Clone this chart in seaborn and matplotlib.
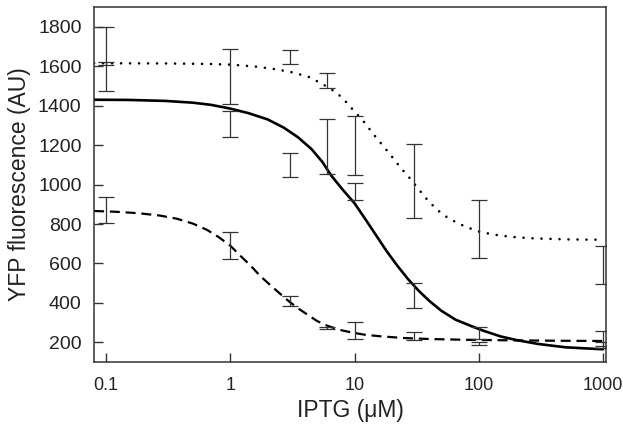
import numpy as np
import pandas as pd
import seaborn as sns
import matplotlib
matplotlib.use("Agg")
import matplotlib.pyplot as plt

# ---- curve points (IPTG in uM, YFP in AU) ----
dot_x = [0.08, 0.3, 0.7, 1, 1.6, 2.3, 3.2, 4.3, 5.5, 7.2, 8.5, 10, 12, 14, 16.5, 19.5, 23, 27.5,
         32, 37, 44, 52, 68, 85, 100, 130, 180, 280, 520, 1000]
dot_y = [1615, 1614, 1611, 1608, 1598, 1585, 1568, 1545, 1510, 1465, 1420, 1370, 1315, 1260, 1205,
         1150, 1092, 1036, 985, 935, 885, 845, 803, 778, 762, 747, 735, 727, 722, 720]

sol_x = [0.08, 0.15, 0.3, 0.5, 0.7, 1, 1.4, 2, 2.7, 3.5, 4.5, 5.5, 6.5, 8, 10, 12.5, 15, 18, 22,
         27, 33, 40, 50, 65, 85, 110, 150, 200, 300, 500, 700, 1000]
sol_y = [1430, 1429, 1424, 1415, 1404, 1385, 1362, 1330, 1288, 1240, 1180, 1115, 1045, 975, 905,
         815, 740, 665, 590, 520, 460, 410, 360, 315, 285, 258, 230, 212, 192, 175, 170, 165]

das_x = [0.08, 0.12, 0.18, 0.27, 0.37, 0.5, 0.65, 0.8, 1, 1.2, 1.45, 1.75, 2.1, 2.5, 3, 3.6, 4.3,
         5, 6, 7.5, 9.5, 12, 16, 25, 40, 80, 200, 500, 1000]
das_y = [866, 862, 855, 843, 827, 802, 770, 735, 690, 640, 590, 535, 490, 448, 405, 368, 335,
         308, 285, 264, 250, 239, 231, 222, 217, 213, 210, 208, 207]

# ---- error bars (low / high) ----
conc = [0.1, 1, 3, 6, 10, 30, 100, 1000]
dot_lo = [1476, 1410, 1613, 1491, 1046, 828, 630, 497]
dot_hi = [1800, 1688, 1684, 1567, 1349, 1208, 924, 691]
sol_lo = [1605, 1243, 1036, 1051, 924, 372, 215, 172]
sol_hi = [1622, 1375, 1162, 1334, 1010, 499, 276, 200]
das_lo = [803, 625, 382, 268, 215, 210, 186, 180]
das_hi = [939, 757, 433, 280, 301, 251, 201, 258]

xticks = [0.1, 1, 10, 100, 1000]
xticklabels = ["0.1", "1", "10", "100", "1000"]
yticks = [200, 400, 600, 800, 1000, 1200, 1400, 1600, 1800]

sns.set_theme(style="white")
plt.rcParams['font.family'] = ['Liberation Sans', 'DejaVu Sans']

fig = plt.figure(figsize=(6.23, 4.25), dpi=100)
ax = fig.add_axes([0.151, 0.148, 0.822, 0.8355])

curves = pd.concat([
    pd.DataFrame({"x": dot_x, "y": dot_y, "s": "dotted"}),
    pd.DataFrame({"x": sol_x, "y": sol_y, "s": "solid"}),
    pd.DataFrame({"x": das_x, "y": das_y, "s": "dashed"}),
])

sns.lineplot(data=curves[curves.s == "dotted"], x="x", y="y", ax=ax, color="black",
             lw=1.9, linestyle=(0, (0.01, 3.4)), dash_capstyle="round")
sns.lineplot(data=curves[curves.s == "solid"], x="x", y="y", ax=ax, color="black", lw=1.9)
sns.lineplot(data=curves[curves.s == "dashed"], x="x", y="y", ax=ax, color="black",
             lw=1.6, linestyle=(0, (4.5, 2.6)))

for lo, hi in [(dot_lo, dot_hi), (sol_lo, sol_hi), (das_lo, das_hi)]:
    lo = np.array(lo, float)
    hi = np.array(hi, float)
    mid = (lo + hi) / 2
    ax.errorbar(conc, mid, yerr=[mid - lo, hi - mid], fmt="none", ecolor="#333333",
                elinewidth=0.9, capsize=5.8, capthick=0.9)

ax.set_xscale("log")
ax.set_xlim(0.08, 1060)
ax.set_ylim(100, 1900)
ax.set_xticks(xticks)
ax.set_xticklabels(xticklabels)
ax.xaxis.set_minor_locator(matplotlib.ticker.NullLocator())
ax.set_yticks(yticks)

ax.tick_params(axis="both", which="major", direction="in", length=6.5, width=1.0,
               color="#333333", labelcolor="#222222",
               left=True, bottom=True, top=False, right=False)
ax.tick_params(axis="x", pad=11, labelsize=13)
ax.tick_params(axis="y", pad=9, labelsize=14)

for sp in ax.spines.values():
    sp.set_color("#333333")
    sp.set_linewidth(1.1)
    sp.set_visible(True)

ax.set_xlabel("IPTG (\u03bcM)", fontsize=16.5, color="#222222", labelpad=3)
ax.set_ylabel("YFP fluorescence (AU)", fontsize=16.5, color="#222222", labelpad=5)

fig.savefig("out.png", dpi=100)
